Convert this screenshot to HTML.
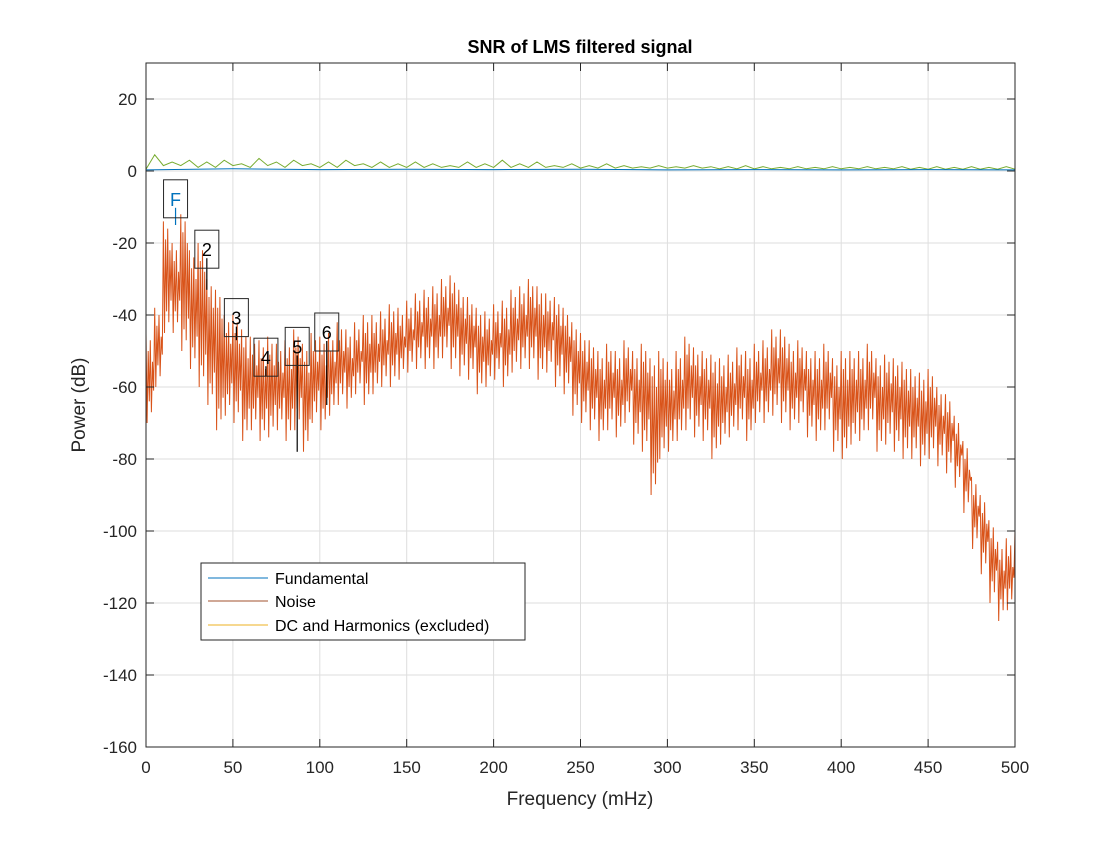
<!DOCTYPE html>
<html><head><meta charset="utf-8"><style>
body{margin:0;background:#fff;}
svg{font-family:"Liberation Sans",Arial,sans-serif;}
</style></head><body>
<svg id="chart" width="1120" height="840" viewBox="0 0 1120 840">
<rect x="0" y="0" width="1120" height="840" fill="#fff"/>
<g id="grid"></g>
<g id="series"></g>
<g id="axes"></g>
<g id="annot"></g>
<g id="legend"></g>
</svg>
<script>
const xTicks=[0,50,100,150,200,250,300,350,400,450,500];
const yTicks=[20,0,-20,-40,-60,-80,-100,-120,-140,-160];
const noiseHigh=[-45,-38,-14,-20,-12,-22,-20,-30,-33,-40,-40,-44,-46,-47,-46,-48,-47,-44,-48,-45,-46,-45,-42,-44,-42,-40,-40,-39,-37,-38,-36,-34,-33,-32,-30,-29,-33,-35,-38,-39,-37,-36,-33,-32,-30,-32,-34,-35,-38,-42,-45,-47,-50,-48,-50,-47,-50,-48,-52,-50,-53,-50,-46,-49,-50,-51,-52,-51,-49,-50,-48,-47,-44,-44,-48,-47,-50,-50,-48,-52,-50,-50,-50,-48,-52,-51,-52,-53,-55,-56,-55,-60,-62,-68,-75,-85,-90,-97,-103,-102,-100];
const noiseLow=[-70,-60,-45,-45,-50,-55,-60,-65,-72,-68,-70,-75,-72,-75,-74,-72,-75,-72,-78,-70,-72,-68,-65,-66,-62,-65,-62,-60,-60,-58,-56,-55,-55,-55,-52,-55,-57,-58,-62,-60,-58,-60,-56,-55,-55,-58,-56,-60,-62,-68,-70,-72,-75,-72,-74,-70,-76,-78,-90,-80,-78,-75,-72,-74,-75,-80,-76,-74,-72,-75,-70,-70,-68,-70,-72,-70,-74,-75,-72,-78,-80,-76,-75,-72,-78,-76,-78,-80,-80,-82,-80,-82,-84,-88,-95,-105,-112,-120,-125,-122,-118];
const greenVals=[0.5,4.5,1.5,2.5,1.5,3,1,2.5,1,3,1.5,2,1,3.5,1.5,2.5,1,3,1.5,2,1,2.5,1,3,1.5,2,1,2.5,1,2,1,2.5,1,2,1,1.5,1,2.5,1,2,1,3,1,2,1,2.5,1,1.5,1,2,0.8,1.5,0.8,2,0.8,1.5,0.8,1.2,0.8,1.5,0.8,1.2,0.8,1.5,0.8,1.2,0.6,1.2,0.6,1.5,0.6,1.2,0.6,1,0.6,1.2,0.6,1,0.6,1.2,0.6,1,0.6,1.2,0.6,1,0.6,1.2,0.5,1,0.5,1.2,0.5,1,0.5,1.2,0.5,1,0.5,1.2,0.5];
const blueVals=[0.3,0.6,0.4,0.5,0.4,0.5,0.3,0.4,0.3,0.4,0.3];
const harmLabels=["F","2","3","4","5","6"];
const harmFreq=[17,35,52,69,87,104];
const harmTop=[-13,-27,-46,-57,-54,-50];
const harmBottom=[-15,-33,-47,-57,-78,-65];

const NS="http://www.w3.org/2000/svg";
const X0=146,X1=1015,Y0=63,Y1=747,YMAX=30,YMIN=-160;
const xs=v=>X0+(v/500)*(X1-X0);
const ys=v=>Y0+(YMAX-v)/(YMAX-YMIN)*(Y1-Y0);
function mk(tag,attrs,parent,text){const e=document.createElementNS(NS,tag);for(const k in attrs)e.setAttribute(k,attrs[k]);if(text!==undefined)e.textContent=text;parent.appendChild(e);return e;}
const grid=document.getElementById('grid'),axes=document.getElementById('axes'),series=document.getElementById('series'),annot=document.getElementById('annot'),legend=document.getElementById('legend');

xTicks.forEach(t=>{
  const l=mk('line',{x1:xs(t),x2:xs(t),y1:Y0,y2:Y1,stroke:'#dedede','stroke-width':1},grid);
  
  mk('line',{x1:xs(t),x2:xs(t),y1:Y1,y2:Y1-8,stroke:'#262626'},axes);
  mk('line',{x1:xs(t),x2:xs(t),y1:Y0,y2:Y0+8,stroke:'#262626'},axes);
  const tx=mk('text',{x:xs(t),y:Y1+26,'text-anchor':'middle','font-size':17,fill:'#262626'},axes,String(t));
  
});
yTicks.forEach(t=>{
  const l=mk('line',{x1:X0,x2:X1,y1:ys(t),y2:ys(t),stroke:'#dedede','stroke-width':1},grid);
  
  mk('line',{x1:X0,x2:X0+8,y1:ys(t),y2:ys(t),stroke:'#262626'},axes);
  mk('line',{x1:X1,x2:X1-8,y1:ys(t),y2:ys(t),stroke:'#262626'},axes);
  const tx=mk('text',{x:X0-9,y:ys(t)+6,'text-anchor':'end','font-size':17,fill:'#262626'},axes,String(t));
  
});
const frame=mk('rect',{x:X0,y:Y0,width:X1-X0,height:Y1-Y0,fill:'none',stroke:'#262626','stroke-width':1},axes);

const title=mk('text',{x:580,y:53,'text-anchor':'middle','font-size':18,'font-weight':'bold',fill:'#000'},axes,'SNR of LMS filtered signal');

const xl=mk('text',{x:580,y:805,'text-anchor':'middle','font-size':19,fill:'#262626'},axes,'Frequency (mHz)');

const yl=mk('text',{x:85,y:405,'text-anchor':'middle','font-size':19,fill:'#262626',transform:'rotate(-90 85 405)'},axes,'Power (dB)');


// noise
const offH=[0,5,2,8],offL=[0,6,3,9];
let pts=[];
for(let i=0;i<noiseHigh.length;i++){
  const f=i*5,h=noiseHigh[i],lo=noiseLow[i];
  for(let k=0;k<4;k++){pts.push([f+k*1.25,h-offH[k]],[f+k*1.25+0.625,lo+offL[k]]);}
}
pts=pts.filter(p=>p[0]<=500);
const noise=mk('polyline',{points:pts.map(p=>xs(p[0]).toFixed(1)+','+ys(p[1]).toFixed(1)).join(' '),fill:'none',stroke:'#d95319','stroke-width':1,'stroke-linejoin':'bevel'},series);

const green=mk('polyline',{points:greenVals.map((v,i)=>xs(i*5).toFixed(1)+','+ys(v).toFixed(1)).join(' '),fill:'none',stroke:'#77ac30','stroke-width':1},series);

const blue=mk('polyline',{points:blueVals.map((v,i)=>xs(i*50).toFixed(1)+','+ys(v).toFixed(1)).join(' '),fill:'none',stroke:'#0072bd','stroke-width':1},series);


harmLabels.forEach((lab,i)=>{
  const cx=xs(harmFreq[i]),ty=ys(harmTop[i]);
  const ln=mk('line',{x1:cx,x2:cx,y1:ty-10,y2:ys(harmBottom[i]),stroke:i==0?'#0072bd':'#000','stroke-width':1.2},annot);
  
  const bx=mk('rect',{x:cx-12,y:ty-38,width:24,height:38,fill:'none',stroke:'#262626','stroke-width':1},annot);
  
  const tx=mk('text',{x:cx,y:ty-12,'text-anchor':'middle','font-size':18,fill:i==0?'#0072bd':'#000'},annot,lab);
  
});

const lg=mk('rect',{x:201,y:563,width:324,height:77,fill:'#fff',stroke:'#262626','stroke-width':1},legend);

[['Fundamental','#0072bd',578],['Noise','#a0522d',601],['DC and Harmonics (excluded)','#edb120',625]].forEach(e=>{
  const g=mk('g',{},legend);
  
  mk('line',{x1:208,x2:268,y1:e[2],y2:e[2],stroke:e[1],'stroke-width':1},g);
  mk('text',{x:275,y:e[2]+6,'font-size':16,fill:'#000'},g,e[0]);
});
</script>
</body></html>
